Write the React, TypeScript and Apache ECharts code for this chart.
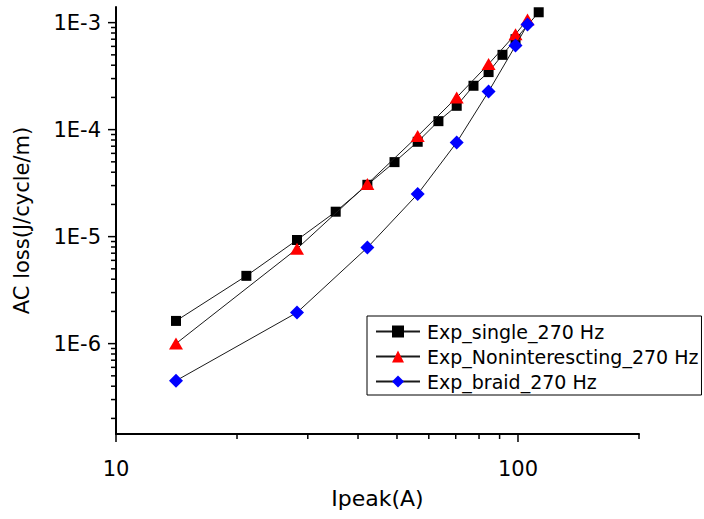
import React, { useEffect, useRef } from "react";
import * as echarts from "echarts";

// ---- data ----
const singleX = [14.1, 21.1, 28.2, 35.2, 42.2, 49.3, 56.3, 63.4, 70.4, 77.5, 84.5, 91.5, 98.6, 112.6];
const singleY = [1.63e-6, 4.3e-6, 9.3e-6, 1.71e-5, 3.05e-5, 4.97e-5, 7.7e-5, 1.2e-4, 1.67e-4, 2.57e-4, 3.45e-4, 5.0e-4, 7.0e-4, 1.25e-3];

const nonX = [14.1, 28.2, 42.2, 56.3, 70.4, 84.5, 98.6, 105.6];
const nonY = [1.0e-6, 7.7e-6, 3.1e-5, 8.7e-5, 2.0e-4, 4.1e-4, 7.8e-4, 1.07e-3];

const braidX = [14.1, 28.2, 42.2, 56.3, 70.4, 84.5, 98.6, 105.6];
const braidY = [4.5e-7, 1.95e-6, 7.9e-6, 2.5e-5, 7.6e-5, 2.27e-4, 6.1e-4, 9.6e-4];

const seriesNames = ["Exp_single_270 Hz", "Exp_Noninterescting_270 Hz", "Exp_braid_270 Hz"];

// axes
const X_MIN = 10;
const X_MAX = 200;
const Y_MIN = 1.43e-7;
const Y_MAX = 1.4e-3;
const xMajorTicks = [10, 100];
const xTickLabels = ["10", "100"];
const xMinorTicks = [20, 30, 40, 50, 60, 70, 80, 90, 200];
const yMajorTicks = [1e-6, 1e-5, 1e-4, 1e-3];
const yTickLabels = ["1E-6", "1E-5", "1E-4", "1E-3"];
const yMinorTicks: number[] = [];
[1e-7, 1e-6, 1e-5, 1e-4].forEach((d) => {
  [2, 3, 4, 5, 6, 7, 8, 9].forEach((m) => {
    const v = m * d;
    if (v >= Y_MIN && v <= Y_MAX) yMinorTicks.push(v);
  });
});

const FONT = "DejaVu Sans";

function lookupLabel(v: number, ticks: number[], labels: string[]) {
  for (let i = 0; i < ticks.length; i++) {
    if (Math.abs(v - ticks[i]) / ticks[i] < 1e-6) return labels[i];
  }
  return "";
}

export default function App() {
  const ref = useRef<HTMLDivElement>(null);
  useEffect(() => {
    if (!ref.current) return;
    const chart = echarts.init(ref.current, null, { renderer: "svg" });
    const yTickData = [
      ...yMajorTicks.map((v) => [X_MIN, v, 8]),
      ...yMinorTicks.map((v) => [X_MIN, v, 5]),
    ];
    const xTickData = [
      ...xMajorTicks.map((v) => [v, Y_MIN, 8]),
      ...xMinorTicks.map((v) => [v, Y_MIN, 5]),
    ];
    chart.setOption({
      animation: false,
      backgroundColor: "#fff",
      grid: { left: 116, top: 7, width: 523, height: 427, containLabel: false },
      xAxis: {
        type: "log",
        logBase: 10,
        min: X_MIN,
        max: X_MAX,
        name: "Ipeak(A)",
        nameLocation: "middle",
        nameGap: 53,
        nameTextStyle: { fontFamily: FONT, fontSize: 22, color: "#000" },
        axisLine: { show: true, onZero: false, lineStyle: { color: "#000", width: 2 } },
        axisTick: { show: false },
        splitLine: { show: false },
        axisLabel: {
          margin: 24,
          fontFamily: FONT,
          fontSize: 21,
          color: "#000",
          formatter: (v: number) => lookupLabel(v, xMajorTicks, xTickLabels),
        },
      },
      yAxis: {
        type: "log",
        logBase: 10,
        min: Y_MIN,
        max: Y_MAX,
        name: "AC loss(J/cycle/m)",
        nameLocation: "middle",
        nameGap: 84,
        nameTextStyle: { fontFamily: FONT, fontSize: 21, color: "#000" },
        axisLine: { show: true, onZero: false, lineStyle: { color: "#000", width: 2 } },
        axisTick: { show: false },
        splitLine: { show: false },
        axisLabel: {
          margin: 15,
          fontFamily: FONT,
          fontSize: 21,
          color: "#000",
          formatter: (v: number) => lookupLabel(v, yMajorTicks, yTickLabels),
        },
      },
      legend: {
        data: seriesNames,
        orient: "vertical",
        left: 367,
        top: 316,
        borderColor: "#000",
        borderWidth: 1,
        backgroundColor: "#fff",
        padding: [6, 3, 4, 8],
        itemWidth: 44,
        itemHeight: 15,
        itemGap: 6,
        selectedMode: false,
        textStyle: { fontFamily: FONT, fontSize: 19, color: "#000", padding: [0, 0, 0, 2] },
      },
      series: [
        {
          name: seriesNames[0],
          type: "line",
          data: singleX.map((x, i) => [x, singleY[i]]),
          symbol: "rect",
          symbolSize: 10,
          itemStyle: { color: "#000" },
          lineStyle: { color: "#1a1a1a", width: 1 },
          z: 3,
        },
        {
          name: seriesNames[1],
          type: "line",
          data: nonX.map((x, i) => [x, nonY[i]]),
          symbol: "triangle",
          symbolSize: [14, 12],
          itemStyle: { color: "#ff0000" },
          lineStyle: { color: "#1a1a1a", width: 1 },
          z: 4,
        },
        {
          name: seriesNames[2],
          type: "line",
          data: braidX.map((x, i) => [x, braidY[i]]),
          symbol: "diamond",
          symbolSize: 14,
          itemStyle: { color: "#0000ff" },
          lineStyle: { color: "#1a1a1a", width: 1 },
          z: 5,
        },
        {
          name: "yticks",
          type: "custom",
          silent: true,
          clip: false,
          data: yTickData,
          renderItem: (_p: any, api: any) => {
            const pt = api.coord([api.value(0), api.value(1)]);
            const len = api.value(2);
            return {
              type: "line",
              shape: { x1: pt[0] - len, y1: pt[1], x2: pt[0], y2: pt[1] },
              style: { stroke: "#000", lineWidth: 1.5 },
            };
          },
          z: 2,
        },
        {
          name: "xticks",
          type: "custom",
          silent: true,
          clip: false,
          data: xTickData,
          renderItem: (_p: any, api: any) => {
            const pt = api.coord([api.value(0), api.value(1)]);
            const len = api.value(2);
            return {
              type: "line",
              shape: { x1: pt[0], y1: pt[1], x2: pt[0], y2: pt[1] + len },
              style: { stroke: "#000", lineWidth: 1.5 },
            };
          },
          z: 2,
        },
      ],
    });
    return () => chart.dispose();
  }, []);
  return <div ref={ref} style={{ width: 704, height: 519, position: "absolute", left: 0, top: 0 }} />;
}
